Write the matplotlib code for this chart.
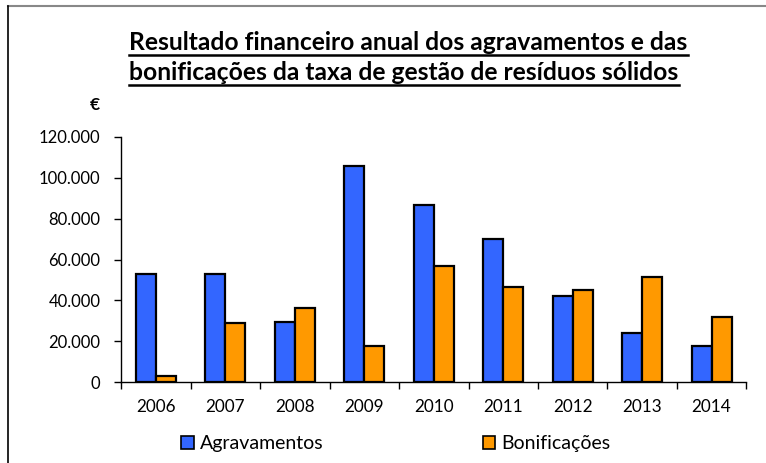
import matplotlib
matplotlib.use("Agg")
import matplotlib.pyplot as plt
import numpy as np
from matplotlib.lines import Line2D
from matplotlib.patches import Patch
from matplotlib.ticker import FixedLocator, FuncFormatter

anos = ['2006', '2007', '2008', '2009', '2010', '2011', '2012', '2013', '2014']
agravamentos = [52800, 52800, 29400, 105900, 86700, 69800, 42300, 24100, 17600]
bonificacoes = [3100, 28900, 36400, 17600, 56700, 46500, 45000, 51500, 31900]
y_ticks = [0, 20000, 40000, 60000, 80000, 100000, 120000]
series_names = ['Agravamentos', 'Bonificações']
title_lines = ['Resultado financeiro anual dos agravamentos e das',
               'bonificações da taxa de gestão de resíduos sólidos']

BLUE = '#3366FF'
ORANGE = '#FF9900'
FONT = ['Lato', 'DejaVu Sans']
plt.rcParams['font.family'] = FONT

W, H = 766, 463
fig = plt.figure(figsize=(W / 100, H / 100), dpi=100)
ax = fig.add_axes([121.3 / W, 1 - 382.3 / H, 625 / W, 245.6 / H])

x = np.arange(len(anos))
bw = 0.288
ax.bar(x - bw / 2, agravamentos, bw, color=BLUE, edgecolor='black', linewidth=1.6, zorder=3)
ax.bar(x + bw / 2, bonificacoes, bw, color=ORANGE, edgecolor='black', linewidth=1.6, zorder=3)

ax.set_xlim(-0.5, len(anos) - 0.5)
ax.set_ylim(0, 120000)
for s in ['top', 'right']:
    ax.spines[s].set_visible(False)
for s in ['left', 'bottom']:
    ax.spines[s].set_color('black')
    ax.spines[s].set_linewidth(1.0)

ax.set_xticks(x)
ax.set_xticklabels(anos, fontsize=12.3)
ax.xaxis.set_minor_locator(FixedLocator(np.arange(-0.5, len(anos), 1.0)))
ax.tick_params(axis='x', which='major', length=0, pad=12)
ax.tick_params(axis='x', which='minor', length=5, direction='out', width=1.0)
ax.set_yticks(y_ticks)
ax.yaxis.set_major_formatter(FuncFormatter(lambda v, p: f"{int(v):,}".replace(",", ".")))
ax.tick_params(axis='y', length=5, direction='out', width=1.0, labelsize=12, pad=10)

fig.text(95 / W, 1 - 105 / H, '€', fontsize=12.5, fontweight='bold', ha='center', va='center')

# Title with underline
t1 = fig.text(0.5 * (130 + 687) / W, 1 - 50 / H, title_lines[0], fontsize=17.7, fontweight='bold',
              ha='center', va='baseline')
t2 = fig.text(0.5 * (133 + 675) / W, 1 - 80 / H, title_lines[1], fontsize=17.7, fontweight='bold',
              ha='center', va='baseline')
fig.canvas.draw()
r = fig.canvas.get_renderer()
for t, yu in [(t1, 54.5), (t2, 84.5)]:
    bb = t.get_window_extent(r)
    fig.add_artist(Line2D([bb.x0 / W, bb.x1 / W], [1 - yu / H, 1 - yu / H],
                          transform=fig.transFigure, color='black', lw=1.8))

# Border lines
fig.add_artist(Line2D([8 / W, 1], [1 - 6 / H, 1 - 6 / H], transform=fig.transFigure, color='#888888', lw=1.5))
fig.add_artist(Line2D([8 / W, 8 / W], [0, 1 - 6 / H], transform=fig.transFigure, color='black', lw=1.2))

handles = [Patch(facecolor=BLUE, edgecolor='black', linewidth=1.2),
           Patch(facecolor=ORANGE, edgecolor='black', linewidth=1.2)]
fig.legend(handles, series_names, loc='center left', bbox_to_anchor=(181 / W, 1 - 443.5 / H),
           ncol=2, frameon=False, fontsize=14, handlelength=0.65, handleheight=0.65,
           handletextpad=0.31, columnspacing=8.2, borderpad=0, borderaxespad=0)

fig.savefig('out.png', dpi=100)
